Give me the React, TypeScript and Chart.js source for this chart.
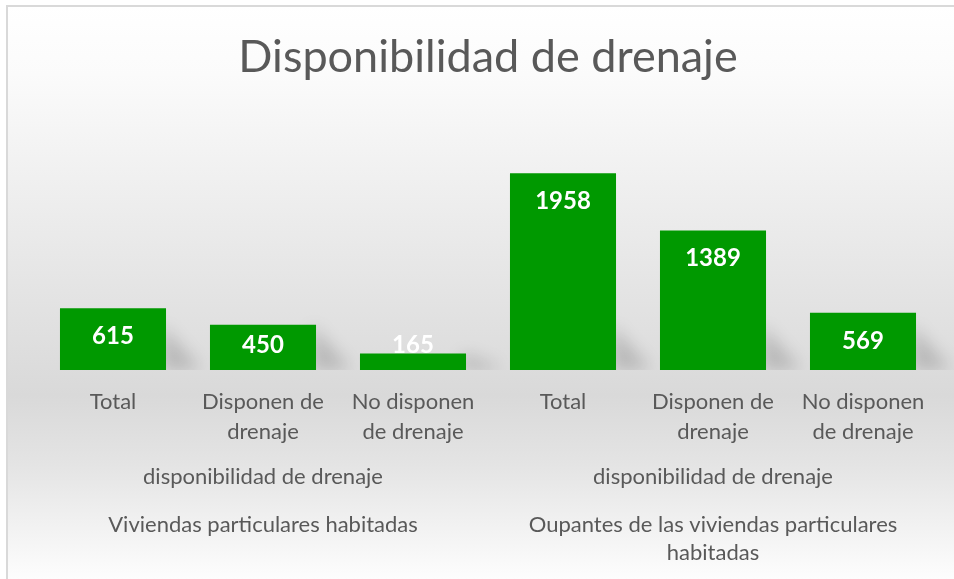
import { useEffect, useRef } from "react";
import { Chart, registerables } from "chart.js";
Chart.register(...registerables);

const chartTitle = "Disponibilidad de drenaje";
const categories: string[][] = [
  ["Total"],
  ["Disponen de", "drenaje"],
  ["No disponen", "de drenaje"],
  ["Total"],
  ["Disponen de", "drenaje"],
  ["No disponen", "de drenaje"],
];
const values = [615, 450, 165, 1958, 1389, 569];
const subGroupLabels = ["disponibilidad de drenaje", "disponibilidad de drenaje"];
const groupLabels: string[][] = [
  ["Viviendas particulares habitadas"],
  ["Oupantes de las viviendas particulares", "habitadas"],
];
const groupSize = 3;

const FONT = "Lato, 'Open Sans', sans-serif";
const TEXT = "#595959";
const BAR = "#009900";

const decorPlugin = {
  id: "decor",
  beforeDraw(chart: any) {
    const { ctx, width, height } = chart;
    ctx.save();
    const g = ctx.createLinearGradient(0, 5, 0, height);
    g.addColorStop(0, "#ffffff");
    g.addColorStop(0.12, "#fbfbfb");
    g.addColorStop(0.68, "#d9d9d9");
    g.addColorStop(0.8, "#e4e4e4");
    g.addColorStop(1, "#fdfdfd");
    ctx.fillStyle = "#ffffff";
    ctx.fillRect(0, 0, width, height);
    ctx.fillStyle = g;
    ctx.fillRect(6, 5, width - 6, height - 5);
    ctx.fillStyle = "#d9d9d9";
    ctx.fillRect(6, 5, width - 6, 2);
    ctx.fillRect(6, 5, 2, height - 5);
    // title
    ctx.fillStyle = TEXT;
    ctx.font = `45px ${FONT}`;
    ctx.textAlign = "center";
    ctx.textBaseline = "middle";
    ctx.fillText(chartTitle, 488, 57);
    ctx.restore();
  },
  beforeDatasetsDraw(chart: any) {
    const { ctx } = chart;
    const meta = chart.getDatasetMeta(0);
    const base = chart.chartArea.bottom;
    ctx.save();
    ctx.beginPath();
    ctx.rect(0, 0, chart.width, base);
    ctx.clip();
    ctx.filter = "blur(8px)";
    ctx.fillStyle = "rgba(0,0,0,0.16)";
    meta.data.forEach((bar: any) => {
      const right = bar.x + bar.width / 2;
      const h = Math.min(45, base - bar.y);
      ctx.beginPath();
      ctx.moveTo(right - 4, base);
      ctx.lineTo(right - 4, base - h);
      ctx.lineTo(right + 32, base - 4);
      ctx.lineTo(right + 32, base);
      ctx.closePath();
      ctx.fill();
    });
    ctx.restore();
  },
  afterDatasetsDraw(chart: any) {
    const { ctx } = chart;
    const meta = chart.getDatasetMeta(0);
    const base = chart.chartArea.bottom;
    ctx.save();
    ctx.fillStyle = "#ffffff";
    ctx.font = `bold 24px ${FONT}`;
    ctx.textAlign = "center";
    ctx.textBaseline = "middle";
    meta.data.forEach((bar: any, i: number) => {
      const y = Math.min(bar.y + 28, base - 25);
      ctx.fillText(String(values[i]), bar.x, y);
    });
    ctx.restore();
  },
  afterDraw(chart: any) {
    const { ctx } = chart;
    const x = chart.scales.x;
    ctx.save();
    ctx.fillStyle = TEXT;
    ctx.font = `22px ${FONT}`;
    ctx.textAlign = "center";
    ctx.textBaseline = "middle";
    for (let gi = 0; gi < groupLabels.length; gi++) {
      const a = x.getPixelForValue(gi * groupSize);
      const b = x.getPixelForValue(gi * groupSize + groupSize - 1);
      const cx = (a + b) / 2;
      ctx.fillText(subGroupLabels[gi], cx, 477);
      groupLabels[gi].forEach((line, li) => {
        ctx.fillText(line, cx, 525 + li * 28);
      });
    }
    ctx.restore();
  },
};

export default function App() {
  const ref = useRef<HTMLCanvasElement | null>(null);
  useEffect(() => {
    document.body.style.margin = "0";
    const chart = new Chart(ref.current!, {
      type: "bar",
      data: {
        labels: categories,
        datasets: [
          {
            data: values,
            backgroundColor: BAR,
            borderWidth: 0,
            barPercentage: 0.707,
            categoryPercentage: 1,
          },
        ],
      },
      options: {
        responsive: false,
        animation: false,
        layout: { padding: { left: 38, right: 16, top: 169, bottom: 0 } },
        plugins: {
          legend: { display: false },
          title: { display: false },
          tooltip: { enabled: false },
        },
        scales: {
          y: { display: false, min: 0, max: 2000 },
          x: {
            grid: { display: false, drawTicks: false },
            border: { display: false },
            ticks: {
              color: TEXT,
              font: { family: FONT, size: 22, lineHeight: 1.36 },
              padding: 17,
              autoSkip: false,
              maxRotation: 0,
            },
            afterFit(scale: any) {
              scale.height = 209;
            },
          },
        },
      },
      plugins: [decorPlugin],
    });
    return () => chart.destroy();
  }, []);
  return (
    <div style={{ width: 954, height: 579 }}>
      <canvas ref={ref} width={954} height={579} />
    </div>
  );
}
